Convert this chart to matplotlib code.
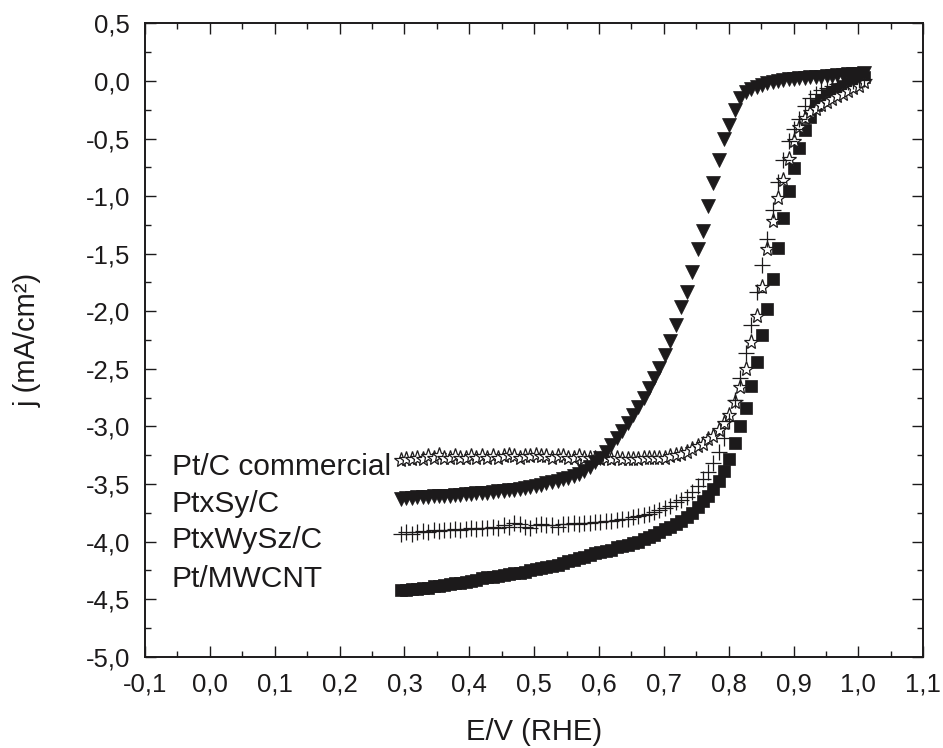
import numpy as np
import matplotlib
matplotlib.use("Agg")
import matplotlib.pyplot as plt
from matplotlib.ticker import MultipleLocator, FuncFormatter

plt.rcParams['font.family'] = ['Liberation Sans', 'DejaVu Sans']

# Potential (V vs RHE), common to the four polarization curves
potential = [
    0.295, 0.303, 0.312, 0.320, 0.328, 0.337, 0.345, 0.353, 0.361, 0.370,
    0.378, 0.386, 0.395, 0.403, 0.411, 0.420, 0.428, 0.436, 0.444, 0.453,
    0.461, 0.469, 0.478, 0.486, 0.494, 0.503, 0.511, 0.519, 0.527, 0.536,
    0.544, 0.552, 0.561, 0.569, 0.577, 0.586, 0.594, 0.602, 0.610, 0.619,
    0.627, 0.635, 0.644, 0.652, 0.660, 0.669, 0.677, 0.685, 0.693, 0.702,
    0.710, 0.718, 0.727, 0.735, 0.743, 0.752, 0.760, 0.768, 0.776, 0.785,
    0.793, 0.801, 0.810, 0.818, 0.826, 0.835, 0.843, 0.851, 0.859, 0.868,
    0.876, 0.884, 0.893, 0.901, 0.909, 0.918, 0.926, 0.934, 0.942, 0.951,
    0.959, 0.967, 0.976, 0.984, 0.992, 1.001, 1.009,
]

# current density (mA/cm2)
j_ptc = [
    -3.29, -3.28, -3.28, -3.27, -3.28, -3.26, -3.27, -3.25, -3.27, -3.27,
    -3.26, -3.27, -3.27, -3.26, -3.27, -3.26, -3.27, -3.26, -3.27, -3.26,
    -3.25, -3.26, -3.27, -3.26, -3.26, -3.25, -3.26, -3.26, -3.27, -3.26,
    -3.26, -3.27, -3.27, -3.26, -3.27, -3.27, -3.27, -3.28, -3.27, -3.28,
    -3.27, -3.28, -3.28, -3.28, -3.28, -3.27, -3.27, -3.27, -3.27, -3.27,
    -3.26, -3.25, -3.24, -3.22, -3.20, -3.17, -3.15, -3.11, -3.08, -3.03,
    -2.97, -2.90, -2.79, -2.66, -2.50, -2.27, -2.04, -1.79, -1.46, -1.22,
    -1.02, -0.86, -0.68, -0.52, -0.40, -0.32, -0.27, -0.24, -0.21, -0.18,
    -0.155, -0.13, -0.11, -0.085, -0.065, -0.04, -0.01,
]

j_ptsy = [
    -3.63, -3.625, -3.62, -3.615, -3.61, -3.61, -3.605, -3.60, -3.60, -3.60,
    -3.595, -3.595, -3.59, -3.585, -3.58, -3.58, -3.575, -3.57, -3.565, -3.56,
    -3.555, -3.55, -3.54, -3.535, -3.525, -3.515, -3.505, -3.495, -3.485, -3.475,
    -3.46, -3.445, -3.43, -3.41, -3.385, -3.355, -3.31, -3.27, -3.22, -3.16,
    -3.10, -3.04, -2.97, -2.90, -2.83, -2.75, -2.67, -2.58, -2.49, -2.38,
    -2.26, -2.12, -1.96, -1.83, -1.66, -1.46, -1.30, -1.09, -0.89, -0.69,
    -0.50, -0.38, -0.25, -0.15, -0.10, -0.07, -0.05, -0.035, -0.02, -0.01,
    0.0, 0.008, 0.013, 0.018, 0.022, 0.028, 0.032, 0.035, 0.038, 0.042,
    0.045, 0.05, 0.053, 0.057, 0.06, 0.063, 0.066,
]

j_ptwysz = [
    -3.93, -3.92, -3.93, -3.92, -3.91, -3.92, -3.90, -3.91, -3.90, -3.90,
    -3.89, -3.90, -3.89, -3.88, -3.89, -3.88, -3.88, -3.87, -3.88, -3.86,
    -3.87, -3.84, -3.85, -3.87, -3.88, -3.86, -3.85, -3.86, -3.86, -3.87,
    -3.85, -3.85, -3.84, -3.85, -3.84, -3.84, -3.83, -3.83, -3.82, -3.82,
    -3.81, -3.80, -3.80, -3.79, -3.78, -3.77, -3.76, -3.74, -3.73, -3.71,
    -3.69, -3.66, -3.64, -3.61, -3.57, -3.52, -3.46, -3.40, -3.32, -3.22,
    -3.10, -2.95, -2.77, -2.58, -2.36, -2.12, -1.83, -1.60, -1.37, -1.12,
    -0.88, -0.69, -0.52, -0.42, -0.33, -0.22, -0.15, -0.11, -0.08, -0.06,
    -0.04, -0.03, -0.02, -0.01, 0.00, 0.01, 0.02,
]

j_ptmwcnt = [
    -4.42, -4.42, -4.41, -4.41, -4.40, -4.40, -4.39, -4.39, -4.38, -4.37,
    -4.36, -4.36, -4.35, -4.34, -4.33, -4.32, -4.31, -4.31, -4.30, -4.29,
    -4.28, -4.27, -4.27, -4.26, -4.25, -4.24, -4.23, -4.22, -4.21, -4.20,
    -4.19, -4.17, -4.16, -4.14, -4.13, -4.115, -4.10, -4.09, -4.08, -4.07,
    -4.05, -4.04, -4.03, -4.01, -4.00, -3.98, -3.96, -3.94, -3.915, -3.89,
    -3.87, -3.85, -3.82, -3.79, -3.75, -3.70, -3.65, -3.60, -3.54, -3.47,
    -3.39, -3.28, -3.14, -3.00, -2.84, -2.65, -2.44, -2.21, -1.98, -1.72,
    -1.45, -1.19, -0.96, -0.76, -0.58, -0.43, -0.31, -0.21, -0.165, -0.125,
    -0.095, -0.07, -0.045, -0.02, 0.0, 0.02, 0.035,
]

series_labels = ["Pt/C commercial", "PtxSy/C", "PtxWySz/C", "Pt/MWCNT"]

noir = "#1c1a1b"

fig = plt.figure(figsize=(9.43, 7.48), dpi=100)
ax = fig.add_axes([0.1538, 0.1220, 0.8253, 0.8468])

# courbes (ordre de superposition comme sur l'original)
ax.plot(potential, j_ptmwcnt, ls="none", marker="s", ms=8.8, mfc=noir, mec=noir,
        mew=0.5, zorder=2)
ax.plot(potential, j_ptc, ls="none", marker="*", ms=11, mfc="white", mec=noir,
        mew=0.9, zorder=3)
ax.plot(potential, j_ptwysz, ls="none", marker="+", ms=11, mec=noir,
        mew=0.9, zorder=4)
ax.plot(potential, j_ptsy, ls="none", marker="v", ms=9.8, mfc=noir, mec=noir,
        mew=0.5, zorder=5)

# etiquettes des courbes
for label, yb in zip(series_labels, [-3.421, -3.740, -4.057, -4.391]):
    ax.text(0.0343, yb, label, transform=ax.get_yaxis_transform(),
            fontsize=21.5, va="baseline", ha="left", color=noir)

ax.set_xlim(-0.1, 1.1)
ax.set_ylim(-5.0, 0.5)
ax.xaxis.set_major_locator(MultipleLocator(0.1))
ax.xaxis.set_minor_locator(MultipleLocator(0.05))
ax.yaxis.set_major_locator(MultipleLocator(0.5))
ax.yaxis.set_minor_locator(MultipleLocator(0.25))


def virgule(v, pos):
    s = f"{v:.1f}"
    if s == "-0.0":
        s = "0.0"
    return s.replace(".", ",")


ax.xaxis.set_major_formatter(FuncFormatter(virgule))
ax.yaxis.set_major_formatter(FuncFormatter(virgule))

ax.tick_params(which="both", direction="in", top=True, right=True,
               width=1.0, color=noir)
ax.tick_params(which="major", length=8, labelsize=18.5, pad=11,
               labelcolor=noir)
ax.tick_params(which="minor", length=4)
for sp in ax.spines.values():
    sp.set_linewidth(1.4)
    sp.set_color(noir)

ax.set_xlabel("E/V (RHE)", fontsize=21, color=noir, va="top")
ax.xaxis.set_label_coords(0.5, -0.097)
ax.set_ylabel("j (mA/cm²)", fontsize=21, color=noir)
ax.yaxis.set_label_coords(-0.133, 0.5)

fig.savefig("out.png", dpi=100)
